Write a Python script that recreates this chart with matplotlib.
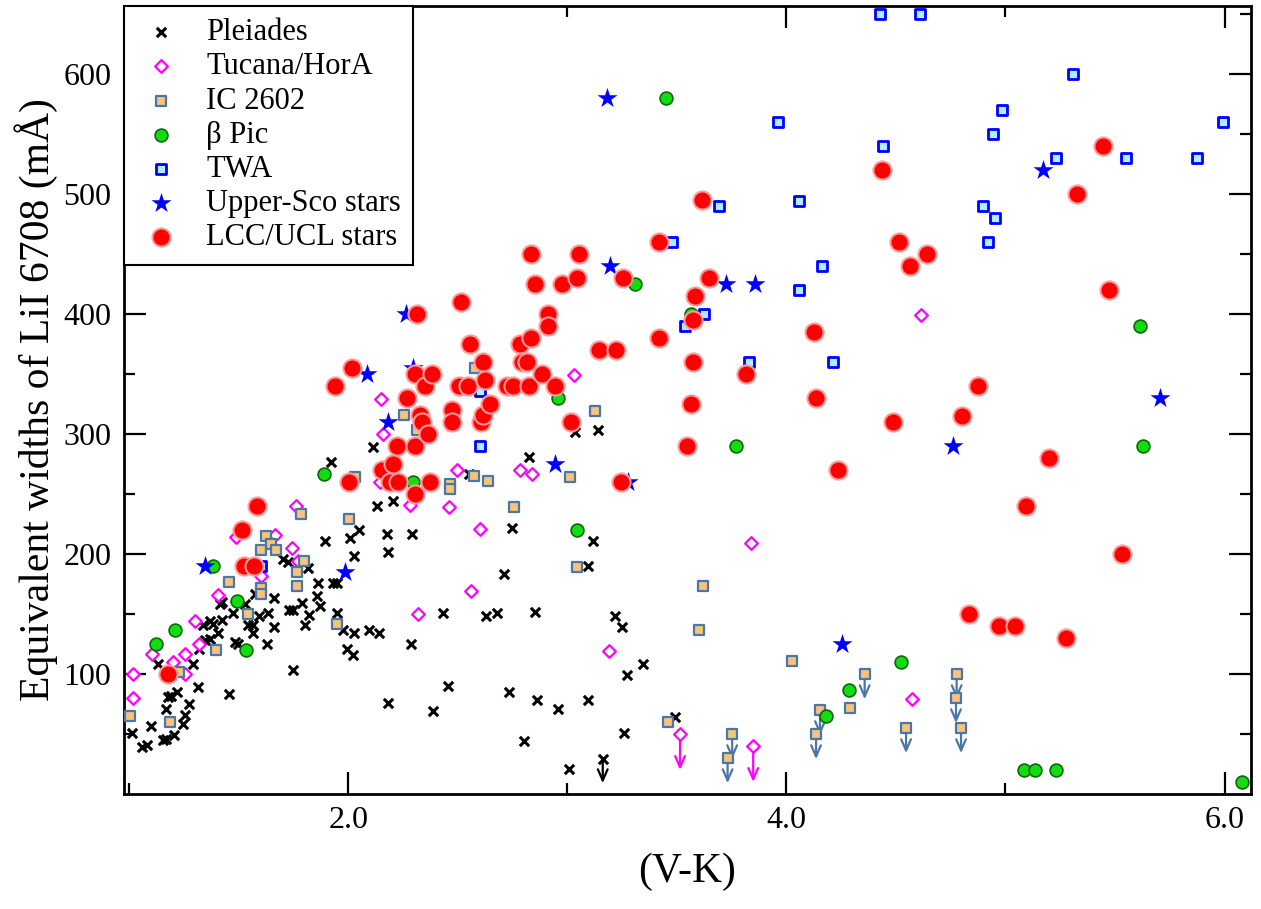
import matplotlib
matplotlib.use("Agg")
import matplotlib.pyplot as plt

plt.rcParams['font.family'] = ['Liberation Serif', 'DejaVu Serif']

# ---- data: (V-K) colour and EW(Li I 6708) in mA ----
pleiades_vk = [1.01, 1.056, 1.079, 1.098, 1.132, 1.154, 1.165, 1.165, 1.178, 1.188,
               1.218, 1.203, 1.246, 1.255, 1.273, 1.289, 1.314, 1.317, 1.337, 1.345,
               1.368, 1.368, 1.383, 1.406, 1.413, 1.421, 1.424, 1.454, 1.474, 1.482,
               1.497, 1.527, 1.542, 1.563, 1.565, 1.573, 1.59, 1.627, 1.634, 1.661,
               1.661, 1.702, 1.725, 1.73, 1.748, 1.745, 1.789, 1.801, 1.821, 1.817,
               1.855, 1.859, 1.87, 1.893, 1.919, 1.931, 1.949, 1.949, 1.976, 1.992,
               2.007, 2.022, 2.025, 2.027, 2.049, 2.095, 2.113, 2.129, 2.14, 2.174,
               2.179, 2.182, 2.202, 2.285, 2.291, 2.384, 2.433, 2.456, 2.55, 2.628,
               2.679, 2.711, 2.734, 2.745, 2.803, 2.826, 2.853, 2.859, 2.957, 3.007,
               3.034, 3.092, 3.095, 3.118, 3.138, 3.217, 3.247, 3.259, 3.27, 3.343,
               3.491]
pleiades_ew = [51, 39, 41, 57, 108, 45, 46, 71, 81, 82,
               85, 49, 58, 66, 75, 108, 89, 121, 141, 128,
               129, 144, 142, 134, 158, 145, 160, 83, 151, 127,
               125, 158, 141, 134, 141, 167, 148, 125, 151, 139,
               163, 196, 193, 153, 153, 103, 159, 141, 149, 188,
               165, 176, 157, 211, 277, 176, 176, 151, 137, 121,
               213, 116, 134, 198, 220, 137, 289, 240, 134, 217,
               76, 202, 244, 125, 217, 69, 151, 90, 267, 148,
               151, 183, 85, 222, 44, 281, 152, 78, 71, 21,
               302, 78, 190, 211, 303, 148, 139, 51, 99, 108,
               64]
pleiades_lim_vk = [3.161]
pleiades_lim_ew = [29]

tuc_vk = [1.015, 1.015, 1.101, 1.197, 1.253, 1.255, 1.299, 1.316, 1.403, 1.486,
          1.6, 1.666, 1.743, 1.76, 1.771, 2.144, 2.148, 2.159, 2.281, 2.319,
          2.46, 2.497, 2.558, 2.6, 2.783, 2.838, 3.031, 3.19, 3.839, 4.572, 4.613]
tuc_ew = [100, 80, 117, 110, 100, 117, 144, 125, 166, 214,
          182, 216, 205, 240, 194, 260, 329, 300, 241, 150,
          239, 270, 169, 221, 270, 267, 349, 119, 209, 79, 399]
tuc_lim_vk = [3.514, 3.848]
tuc_lim_ew = [50, 40]

ic_vk = [1.002, 1.185, 1.225, 1.394, 1.454, 1.54, 1.6, 1.602, 1.602, 1.623,
         1.646, 1.668, 1.763, 1.763, 1.783, 1.798, 1.947, 2.001, 2.031, 2.253,
         2.314, 2.463, 2.463, 2.573, 2.578, 2.638, 2.757, 3.011, 3.045, 3.126,
         3.46, 3.6, 3.62, 4.024, 4.29]
ic_ew = [65, 60, 102, 120, 177, 150, 203, 172, 167, 215,
         208, 203, 185, 173, 233, 194, 142, 229, 264, 316,
         303, 258, 254, 265, 355, 261, 239, 264, 189, 319,
         60, 137, 173, 111, 72]
ic_lim_vk = [3.731, 3.752, 4.135, 4.153, 4.357, 4.546, 4.774, 4.777, 4.797]
ic_lim_ew = [30, 50, 50, 70, 100, 55, 80, 100, 55]

bpic_vk = [1.121, 1.206, 1.38, 1.49, 1.531, 1.888, 2.293, 2.958, 3.042, 3.31,
           3.448, 3.562, 3.77, 4.18, 4.284, 4.521, 5.084, 5.135, 5.232, 5.614,
           5.629, 6.08]
bpic_ew = [125, 137, 190, 161, 120, 267, 260, 330, 220, 425,
           580, 400, 290, 65, 87, 110, 20, 20, 20, 390,
           290, 10]

twa_vk = [1.6, 2.6, 2.6, 3.477, 3.537, 3.625, 3.69, 3.827, 3.963, 4.058,
          4.058, 4.164, 4.214, 4.427, 4.442, 4.61, 4.896, 4.922, 4.941, 4.952,
          4.983, 5.229, 5.308, 5.549, 5.873, 5.992]
twa_ew = [190, 336, 290, 460, 390, 400, 490, 360, 560, 494,
          420, 440, 360, 650, 540, 650, 490, 460, 550, 480,
          570, 530, 600, 530, 530, 560]

usco_vk = [1.345, 1.984, 2.083, 2.182, 2.263, 2.293, 2.943, 3.18, 3.194, 3.278,
           3.724, 3.855, 4.253, 4.762, 5.173, 5.705]
usco_ew = [190, 185, 350, 310, 400, 355, 275, 580, 440, 260,
           425, 425, 125, 290, 520, 330]

lcc_vk = [1.176, 1.512, 1.523, 1.569, 1.583, 1.94, 2.004, 2.015, 2.152, 2.205,
          2.19, 2.227, 2.22, 2.266, 2.304, 2.304, 2.314, 2.304, 2.326, 2.334,
          2.349, 2.364, 2.372, 2.383, 2.473, 2.473, 2.503, 2.514, 2.544, 2.555,
          2.604, 2.613, 2.613, 2.623, 2.646, 2.722, 2.752, 2.783, 2.791, 2.814,
          2.823, 2.833, 2.833, 2.852, 2.885, 2.912, 2.912, 2.943, 2.973, 3.015,
          3.042, 3.054, 3.144, 3.221, 3.244, 3.255, 3.42, 3.42, 3.544, 3.564,
          3.572, 3.574, 3.584, 3.614, 3.645, 3.814, 4.124, 4.133, 4.235, 4.435,
          4.485, 4.514, 4.564, 4.643, 4.803, 4.833, 4.874, 4.972, 5.042, 5.094,
          5.2, 5.275, 5.325, 5.444, 5.474, 5.533]
lcc_ew = [100, 220, 190, 190, 240, 340, 260, 355, 270, 275,
          260, 260, 290, 330, 250, 290, 400, 350, 316, 310,
          340, 300, 260, 350, 320, 310, 340, 410, 340, 375,
          310, 316, 360, 345, 325, 340, 340, 375, 360, 360,
          340, 380, 450, 425, 350, 400, 390, 340, 425, 310,
          430, 450, 370, 370, 260, 430, 460, 380, 290, 325,
          395, 360, 415, 495, 430, 350, 385, 330, 270, 520,
          310, 460, 440, 450, 315, 150, 340, 140, 140, 240,
          280, 130, 500, 540, 420, 200]

fig = plt.figure(figsize=(12.61, 9.09), dpi=100)
ax = fig.add_axes([124 / 1261, 115 / 909, 1127 / 1261, 788 / 909])


def draw_limits(vk, ew, color, drop):
    for x, y in zip(vk, ew):
        ax.annotate('', xy=(x, y - drop), xytext=(x, y),
                    arrowprops=dict(arrowstyle='->,head_length=0.8,head_width=0.35',
                                    color=color, lw=1.6, shrinkA=0, shrinkB=0),
                    zorder=1)


draw_limits(pleiades_lim_vk, pleiades_lim_ew, 'black', 20)
draw_limits(tuc_lim_vk, tuc_lim_ew, '#ff00ff', 30)
draw_limits(ic_lim_vk, ic_lim_ew, '#4a76a8', 21)

ax.scatter(pleiades_vk + pleiades_lim_vk, pleiades_ew + pleiades_lim_ew,
           marker='x', s=45, c='black', linewidths=2.2, zorder=3, label='Pleiades')
ax.scatter(tuc_vk + tuc_lim_vk, tuc_ew + tuc_lim_ew, marker='D', s=42,
           facecolors='white', edgecolors='#ff00ff', linewidths=1.6, zorder=3,
           label='Tucana/HorA')
ax.scatter(ic_vk + ic_lim_vk, ic_ew + ic_lim_ew, marker='s', s=62,
           facecolors='#f8c47a', edgecolors='#4a76a8', linewidths=1.6, zorder=3,
           label='IC 2602')
ax.scatter(bpic_vk, bpic_ew, marker='o', s=85, facecolors='#11dd11',
           edgecolors='#0a6a0a', linewidths=1.2, zorder=4, label='\u03b2 Pic')
ax.scatter(twa_vk, twa_ew, marker='s', s=62, facecolors='#aeeeff',
           edgecolors='#0000ff', linewidths=2, zorder=4, label='TWA')
ax.scatter(usco_vk, usco_ew, marker='*', s=230, c='#0000ff', linewidths=0,
           zorder=5, label='Upper-Sco stars')
ax.scatter(lcc_vk, lcc_ew, marker='o', s=170, facecolors='#ff0000',
           edgecolors='#ff9a9a', linewidths=1.5, zorder=6, label='LCC/UCL stars')

ax.set_xlim(0.975, 6.121)
ax.set_ylim(0, 656.7)
ax.set_xticks([2, 4, 6])
ax.set_xticklabels(['2.0', '4.0', '6.0'])
ax.set_xticks([1, 3, 5], minor=True)
ax.set_yticks([100, 200, 300, 400, 500, 600])
ax.set_yticks([50, 150, 250, 350, 450, 550, 650], minor=True)
ax.tick_params(which='both', direction='in', top=True, right=True, width=1.6,
               labelsize=23, pad=9)
ax.tick_params(which='major', length=16)
ax.tick_params(which='minor', length=8)
for sp in ax.spines.values():
    sp.set_linewidth(2)

ax.set_xlabel('(V-K)', fontsize=30, labelpad=12)
ax.set_ylabel('Equivalent widths of LiI 6708 (m\u00c5)', fontsize=30, labelpad=4)

leg = ax.legend(loc='upper left', borderaxespad=0, fontsize=22, fancybox=False,
                framealpha=1, edgecolor='black', handlelength=1.6,
                handletextpad=0.7, borderpad=0.4, labelspacing=0.17,
                scatterpoints=1)
leg.get_frame().set_linewidth(1.5)
leg.set_zorder(10)

fig.savefig('out.png', dpi=100)
